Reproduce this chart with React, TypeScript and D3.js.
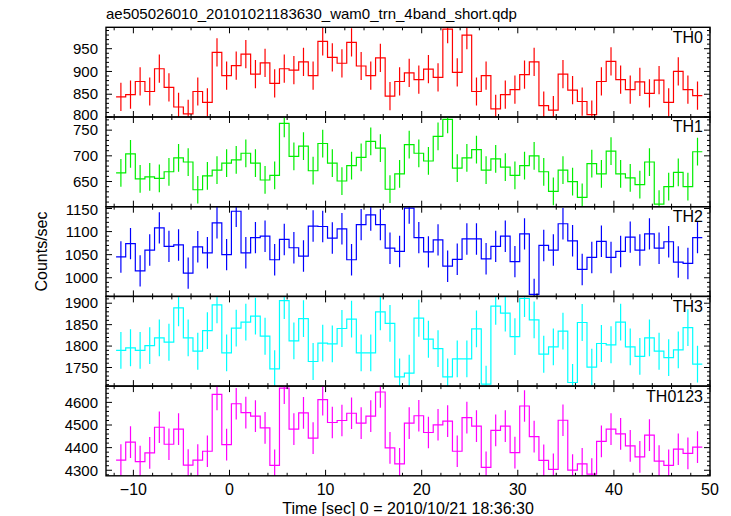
import React from 'react';
import * as d3 from 'd3';

const TITLE = 'ae505026010_20101021183630_wam0_trn_4band_short.qdp';
const X_LABEL = 'Time [sec] 0 = 2010/10/21 18:36:30';
const Y_LABEL = 'Counts/sec';

const TIMES = [
  -11.3, -10.3, -9.3, -8.3, -7.3, -6.3, -5.3, -4.3, -3.3, -2.3,
  -1.3, -0.3, 0.7, 1.7, 2.7, 3.7, 4.7, 5.7, 6.7, 7.7,
  8.7, 9.7, 10.7, 11.7, 12.7, 13.7, 14.7, 15.7, 16.7, 17.7,
  18.7, 19.7, 20.7, 21.7, 22.7, 23.7, 24.7, 25.7, 26.7, 27.7,
  28.7, 29.7, 30.7, 31.7, 32.7, 33.7, 34.7, 35.7, 36.7, 37.7,
  38.7, 39.7, 40.7, 41.7, 42.7, 43.7, 44.7, 45.7, 46.7, 47.7,
  48.7,
];

const TH0 = [
  844, 849, 878, 856, 906, 865, 822, 807, 856, 832,
  942, 891, 913, 938, 894, 919, 874, 906, 903, 921,
  891, 966, 931, 918, 964, 912, 891, 930, 846, 878,
  897, 882, 905, 887, 993, 898, 980, 856, 891, 818,
  849, 860, 893, 921, 825, 815, 894, 859, 834, 805,
  878, 922, 882, 860, 877, 852, 881, 832, 900, 860,
  847,
];
const TH1 = [
  667, 704, 655, 659, 656, 669, 696, 688, 634, 661,
  672, 686, 692, 705, 686, 653, 662, 763, 699, 719,
  671, 724, 686, 651, 681, 697, 728, 715, 635, 665,
  722, 705, 690, 738, 771, 676, 696, 712, 672, 694,
  678, 662, 681, 700, 669, 631, 672, 650, 619, 685,
  665, 709, 665, 657, 644, 688, 606, 640, 668, 640,
  708,
];
const TH2 = [
  1045, 1074, 1015, 1060, 1108, 1068, 1071, 1010, 1067, 1054,
  1119, 1050, 1144, 1054, 1087, 1090, 1039, 1083, 1065, 1047,
  1112, 1111, 1086, 1106, 1039, 1115, 1136, 1115, 1064, 1057,
  1151, 1087, 1056, 1082, 1025, 1040, 1084, 1084, 1041, 1068,
  1090, 1035, 1095, 964, 1070, 1060, 1117, 1080, 1018, 1044,
  1079, 1044, 1057, 1088, 1060, 1095, 1064, 1078, 1034, 1031,
  1087,
];
const TH3 = [
  1790, 1796, 1790, 1801, 1819, 1809, 1889, 1819, 1788, 1836,
  1896, 1784, 1842, 1856, 1870, 1823, 1747, 1906, 1812, 1864,
  1764, 1807, 1805, 1841, 1863, 1784, 1784, 1880, 1853, 1728,
  1737, 1865, 1816, 1794, 1728, 1770, 1770, 1840, 1711, 1893,
  1877, 1822, 1911, 1861, 1781, 1798, 1835, 1715, 1855, 1751,
  1806, 1803, 1856, 1798, 1776, 1819, 1788, 1773, 1791, 1843,
  1758,
];
const TH0123 = [
  4345, 4424, 4338, 4377, 4490, 4415, 4482, 4323, 4345, 4384,
  4635, 4413, 4594, 4555, 4539, 4487, 4322, 4663, 4482, 4554,
  4442, 4612, 4511, 4520, 4552, 4508, 4539, 4646, 4399, 4328,
  4508, 4541, 4467, 4501, 4517, 4384, 4533, 4495, 4313, 4476,
  4495, 4378, 4584, 4449, 4344, 4304, 4521, 4301, 4328, 4283,
  4428, 4482, 4461, 4408, 4359, 4455, 4340, 4322, 4393, 4375,
  4402,
];

const ERR_TH0 = 31;
const ERR_TH1 = 27;
const ERR_TH2 = 34;
const ERR_TH3 = 43;
const ERR_TH0123 = 70;

const X_TICKS = [-10, 0, 10, 20, 30, 40, 50];

const PANELS = [
  { name: 'TH0', values: TH0, err: ERR_TH0, color: '#ff0000', domain: [800, 997], major: [800, 850, 900, 950], minorStep: 10 },
  { name: 'TH1', values: TH1, err: ERR_TH1, color: '#00ee00', domain: [601, 775.6], major: [650, 700, 750], minorStep: 10 },
  { name: 'TH2', values: TH2, err: ERR_TH2, color: '#0000ff', domain: [959.6, 1153.9], major: [1000, 1050, 1100, 1150], minorStep: 10 },
  { name: 'TH3', values: TH3, err: ERR_TH3, color: '#00ffff', domain: [1706.6, 1915.9], major: [1750, 1800, 1850, 1900], minorStep: 10 },
  { name: 'TH0123', values: TH0123, err: ERR_TH0123, color: '#ff00ff', domain: [4275.5, 4672], major: [4300, 4400, 4500, 4600], minorStep: 20 },
];

const W = 731;
const H = 516;
const LEFT = 106;
const RIGHT = 710;
const TOP = 27.3;
const PANEL_H = 89.7;
const FONT = 'Liberation Sans, Arial, Helvetica, sans-serif';

export default function App() {
  const x = d3.scaleLinear().domain([-12.85, 50]).range([LEFT, RIGHT]);
  const xMinor = d3.range(-12, 50.01, 2);
  const bottom = TOP + PANEL_H * PANELS.length;

  return (
    <svg width={W} height={H} style={{ position: 'absolute', left: 0, top: 0, background: '#fff' }} fontFamily={FONT}>
      <defs>
        {PANELS.map((p, i) => (
          <clipPath id={`clip${i}`} key={p.name}>
            <rect x={LEFT} y={TOP + i * PANEL_H} width={RIGHT - LEFT} height={PANEL_H} />
          </clipPath>
        ))}
      </defs>
      <text x={LEFT} y={19} fontSize={15} fill="#000">{TITLE}</text>
      {PANELS.map((p, i) => {
        const top = TOP + i * PANEL_H;
        const bot = top + PANEL_H;
        const y = d3.scaleLinear().domain(p.domain).range([bot, top]);
        const pts: [number, number][] = [];
        TIMES.forEach((t, k) => {
          pts.push([x(t - 0.5), y(p.values[k])]);
          pts.push([x(t + 0.5), y(p.values[k])]);
        });
        const line = d3.line<[number, number]>().x(d => d[0]).y(d => d[1]);
        const yMinor = d3.range(Math.ceil(p.domain[0] / p.minorStep) * p.minorStep, p.domain[1], p.minorStep);
        return (
          <g key={p.name}>
            <g clipPath={`url(#clip${i})`}>
              {TIMES.map((t, k) => (
                <line key={k} x1={x(t)} x2={x(t)} y1={y(p.values[k] - p.err)} y2={y(p.values[k] + p.err)} stroke={p.color} strokeWidth={1.2} />
              ))}
              <path d={line(pts) || ''} fill="none" stroke={p.color} strokeWidth={1.2} />
            </g>
            {xMinor.map(v => {
              const maj = X_TICKS.includes(Math.round(v)) && Math.abs(v % 10) < 1e-6;
              const len = maj ? 6 : 3;
              return (
                <g key={`xt${v}`}>
                  <line x1={x(v)} x2={x(v)} y1={top} y2={top + len} stroke="#000" strokeWidth={1} />
                  <line x1={x(v)} x2={x(v)} y1={bot} y2={bot - len} stroke="#000" strokeWidth={1} />
                </g>
              );
            })}
            {yMinor.map(v => {
              const maj = p.major.includes(v);
              const len = maj ? 6 : 3;
              return (
                <g key={`yt${v}`}>
                  <line x1={LEFT} x2={LEFT + len} y1={y(v)} y2={y(v)} stroke="#000" strokeWidth={1} />
                  <line x1={RIGHT} x2={RIGHT - len} y1={y(v)} y2={y(v)} stroke="#000" strokeWidth={1} />
                </g>
              );
            })}
            {p.major.map(v => {
              const py = y(v);
              const shift = bot - py < 4 ? -2.5 : py - top < 4 ? 1 : 0;
              return (
                <text key={`yl${v}`} x={98} y={py + shift} dy="0.35em" textAnchor="end" fontSize={15} fill="#000">{v}</text>
              );
            })}
            <rect x={LEFT} y={top} width={RIGHT - LEFT} height={PANEL_H} fill="none" stroke="#000" strokeWidth={1.4} />
            <text x={703} y={top + 15.4} textAnchor="end" fontSize={16} fill="#000">{p.name}</text>
          </g>
        );
      })}
      {X_TICKS.map(v => (
        <text key={`xl${v}`} x={x(v)} y={bottom + 19} textAnchor="middle" fontSize={16} fill="#000">{v < 0 ? `\u2212${Math.abs(v)}` : v}</text>
      ))}
      <text x={(LEFT + RIGHT) / 2} y={bottom + 38} textAnchor="middle" fontSize={16} fill="#000">{X_LABEL}</text>
      <text transform={`translate(47, ${(TOP + bottom) / 2}) rotate(-90)`} textAnchor="middle" fontSize={16} fill="#000">{Y_LABEL}</text>
    </svg>
  );
}
